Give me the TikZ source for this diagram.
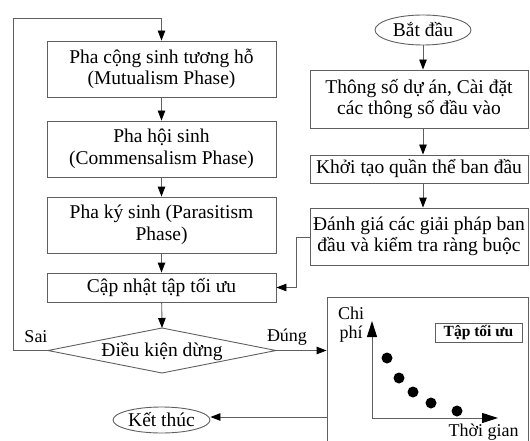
\documentclass[tikz,border=0pt]{standalone}
\usepackage{fontspec}
\setmainfont{Liberation Serif}
\usetikzlibrary{arrows.meta,shapes.geometric}
\definecolor{ln}{RGB}{95,95,95}
\tikzset{
  box/.style={draw=ln, line width=0.9pt, rectangle, inner sep=1pt, align=center,
    font=\fontsize{19.5}{21.5}\selectfont},
  oval/.style={draw=ln, line width=0.9pt, ellipse, inner sep=0pt, align=center,
    font=\fontsize{19.5}{21.5}\selectfont},
  conn/.style={draw=ln, line width=0.9pt, -{Triangle[length=10pt,width=7.5pt,color=black]}},
  axis/.style={draw=ln, line width=1pt, -{Triangle[length=16pt,width=10pt,color=black]}},
  lbl/.style={font=\fontsize{18}{20}\selectfont, inner sep=0pt},
  dot/.style={fill=black, draw=none, circle, minimum size=11pt, inner sep=0pt}
}
\begin{document}
\begin{tikzpicture}[x=1pt,y=-1pt]
\useasboundingbox (0,0) rectangle (530,441);
% left column
\node[box, minimum width=229pt, minimum height=56pt] (b1) at (161.5,69) {Pha cộng sinh tương hỗ\\(Mutualism Phase)};
\node[box, minimum width=229pt, minimum height=56pt] (b2) at (161.5,149) {Pha hội sinh\\(Commensalism Phase)};
\node[box, minimum width=229pt, minimum height=56pt] (b3) at (161.5,225) {Pha ký sinh (Parasitism\\Phase)};
\node[box, minimum width=229pt, minimum height=29pt] (b4) at (161.5,287.5) {Cập nhật tập tối ưu};
% diamond
\coordinate (dt) at (162,328);
\coordinate (dr) at (276,350.5);
\coordinate (db) at (162,373);
\coordinate (dl) at (48,350.5);
\draw[draw=ln, line width=0.9pt] (dt) -- (dr) -- (db) -- (dl) -- cycle;
\node[lbl, font=\fontsize{19.5}{21.5}\selectfont] (dk) at (162,352) {Điều kiện dừng};
\node[lbl] (sai) at (36,337) {Sai};
\node[lbl] (dung) at (287,337) {Đúng};
\node[oval, minimum width=97pt, minimum height=26pt] (kt) at (161.5,420) {Kết thúc};
% right column
\node[oval, minimum width=96pt, minimum height=30pt] (bd) at (423,30) {Bắt đầu};
\node[box, minimum width=218pt, minimum height=58pt] (ts) at (419,99) {Thông số dự án, Cài đặt\\các thông số đầu vào};
\node[box, minimum width=218pt, minimum height=28pt] (kh) at (419,169) {Khởi tạo quần thể ban đầu};
\node[box, minimum width=218pt, minimum height=57pt] (dg) at (419,236.5) {Đánh giá các giải pháp ban\\đầu và kiểm tra ràng buộc};
% chart
\node[draw=ln, line width=0.9pt, minimum width=201pt, minimum height=153pt, inner sep=0pt] (ch) at (427.5,373.5) {};
\node[draw=ln, line width=0.9pt, minimum width=87pt, minimum height=19pt, inner sep=0pt,
  font=\fontsize{15.5}{17}\selectfont\bfseries] (tt) at (478.5,332.5) {Tập tối ưu};
\node[lbl] (chi) at (351,313) {Chi};
\node[lbl] (phi) at (351,334) {phí};
\node[lbl] (tg) at (483.5,432) {Thời gian};
\coordinate (org) at (372,418);
\coordinate (ytip) at (372,321);
\coordinate (xtip) at (498,418);
\draw[axis] (org) -- (ytip);
\draw[axis] (org) -- (xtip);
\node[dot] (p1) at (387,358) {};
\node[dot] (p2) at (399,378) {};
\node[dot] (p3) at (413,392) {};
\node[dot] (p4) at (431,403) {};
\node[dot] (p5) at (457,411) {};
% connectors
\coordinate (loopc) at (13,18);
\draw[conn] (dl) -| (loopc) -| (b1.north);
\draw[conn] (b1) -- (b2);
\draw[conn] (b2) -- (b3);
\draw[conn] (b3) -- (b4);
\draw[conn] (b4) -- (dt);
\draw[conn] (bd) -- (bd |- ts.north);
\draw[conn] (ts.south -| bd) -- (bd |- kh.north);
\draw[conn] (kh.south -| bd) -- (bd |- dg.north);
\draw[conn] (dg.west |- 0,237) -- ++(-13,0) |- (b4.east);
\draw[conn] (dr) -- (dr -| ch.west);
\draw[conn] (ch.west |- 0,417) -- (kt.east |- 0,417);
\end{tikzpicture}
\end{document}
